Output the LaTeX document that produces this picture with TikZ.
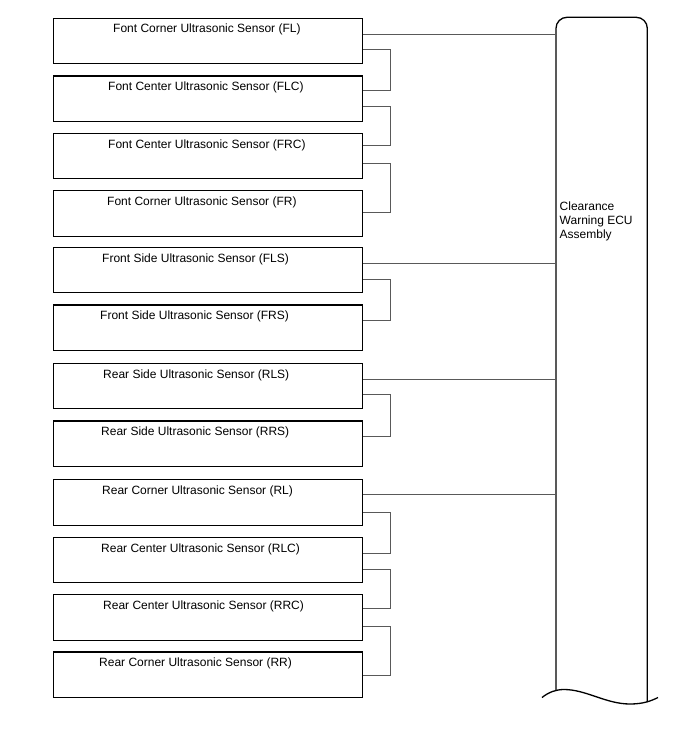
\documentclass[tikz,border=0pt]{standalone}
\usepackage{fontspec}
\setmainfont{Liberation Sans}
\begin{document}
\begin{tikzpicture}[x=1pt,y=-1pt,
  sbox/.style={draw=black,line width=1.2pt,minimum width=309pt,minimum height=45.5pt,inner sep=0pt,anchor=north west},
  lbl/.style={anchor=base west,inner sep=0pt,font=\fontsize{12}{14}\selectfont},
  wire/.style={draw=black!65,line width=0.9pt},
  eculine/.style={draw=black,line width=1.3pt,line join=round}]
\useasboundingbox (0,0) rectangle (688,755);
\fill[white] (0,0) rectangle (688,755);
% sensor boxes
\node[sbox] (b1) at (53,17.5) {};
\node[sbox] (b2) at (53,75.3) {};
\node[sbox] (b3) at (53,132.7) {};
\node[sbox] (b4) at (53,190) {};
\node[sbox] (b5) at (53,246.7) {};
\node[sbox] (b6) at (53,304.3) {};
\node[sbox] (b7) at (53,362.7) {};
\node[sbox] (b8) at (53,420.3) {};
\node[sbox] (b9) at (53,479) {};
\node[sbox] (b10) at (53,536.7) {};
\node[sbox] (b11) at (53,594) {};
\node[sbox] (b12) at (53,651.3) {};
% labels
\node[lbl] (t1) at ([xshift=60pt,yshift=-15.3pt]b1.north west) {Font Corner Ultrasonic Sensor (FL)};
\node[lbl] (t2) at ([xshift=55pt,yshift=-15.3pt]b2.north west) {Font Center Ultrasonic Sensor (FLC)};
\node[lbl] (t3) at ([xshift=55pt,yshift=-15.3pt]b3.north west) {Font Center Ultrasonic Sensor (FRC)};
\node[lbl] (t4) at ([xshift=54pt,yshift=-15.3pt]b4.north west) {Font Corner Ultrasonic Sensor (FR)};
\node[lbl] (t5) at ([xshift=49pt,yshift=-15.3pt]b5.north west) {Front Side Ultrasonic Sensor (FLS)};
\node[lbl] (t6) at ([xshift=47pt,yshift=-15.3pt]b6.north west) {Front Side Ultrasonic Sensor (FRS)};
\node[lbl] (t7) at ([xshift=50pt,yshift=-15.3pt]b7.north west) {Rear Side Ultrasonic Sensor (RLS)};
\node[lbl] (t8) at ([xshift=48pt,yshift=-15.3pt]b8.north west) {Rear Side Ultrasonic Sensor (RRS)};
\node[lbl] (t9) at ([xshift=49pt,yshift=-15.3pt]b9.north west) {Rear Corner Ultrasonic Sensor (RL)};
\node[lbl] (t10) at ([xshift=48pt,yshift=-15.3pt]b10.north west) {Rear Center Ultrasonic Sensor (RLC)};
\node[lbl] (t11) at ([xshift=50pt,yshift=-15.3pt]b11.north west) {Rear Center Ultrasonic Sensor (RRC)};
\node[lbl] (t12) at ([xshift=46pt,yshift=-15.3pt]b12.north west) {Rear Corner Ultrasonic Sensor (RR)};
% ECU
\node[inner sep=0pt,minimum width=91.3pt,minimum height=680pt,anchor=north west] (ecu) at (556,17.3) {};
\draw[eculine,rounded corners=11pt] (556,690) -- (556,17.3) -- (647.3,17.3) -- (647.3,702);
\draw[eculine] (542,697.5) .. controls (549,692) and (556,689.5) .. (564,689.5) .. controls (586,689.5) and (606,704) .. (630,704) .. controls (643,704) and (651,701) .. (658,697.5);
\node[anchor=north west,inner sep=0pt,align=left,font=\fontsize{12}{14}\selectfont] (et) at (559.5,202) {Clearance\\Warning ECU\\Assembly};
% connections to ECU
\draw[wire] ([yshift=-16.5pt]b1.north east) coordinate (c1) -- (c1 -| ecu.west);
\draw[wire] ([yshift=-17pt]b5.north east) coordinate (c5) -- (c5 -| ecu.west);
\draw[wire] ([yshift=-16.3pt]b7.north east) coordinate (c7) -- (c7 -| ecu.west);
\draw[wire] ([yshift=-15.7pt]b9.north east) coordinate (c9) -- (c9 -| ecu.west);
% daisy-chain brackets
\draw[wire] ([yshift=-31.5pt]b1.north east) -- ++(27,0) |- ([yshift=-14.7pt]b2.north east);
\draw[wire] ([yshift=-31.4pt]b2.north east) -- ++(27,0) |- ([yshift=-12.3pt]b3.north east);
\draw[wire] ([yshift=-30.6pt]b3.north east) -- ++(27,0) |- ([yshift=-22.3pt]b4.north east);
\draw[wire] ([yshift=-32.3pt]b5.north east) -- ++(27,0) |- ([yshift=-15.7pt]b6.north east);
\draw[wire] ([yshift=-31.6pt]b7.north east) -- ++(27,0) |- ([yshift=-15.7pt]b8.north east);
\draw[wire] ([yshift=-33.3pt]b9.north east) -- ++(27,0) |- ([yshift=-16.6pt]b10.north east);
\draw[wire] ([yshift=-32.6pt]b10.north east) -- ++(27,0) |- ([yshift=-14pt]b11.north east);
\draw[wire] ([yshift=-32.7pt]b11.north east) -- ++(27,0) |- ([yshift=-24.4pt]b12.north east);
\end{tikzpicture}
\end{document}
